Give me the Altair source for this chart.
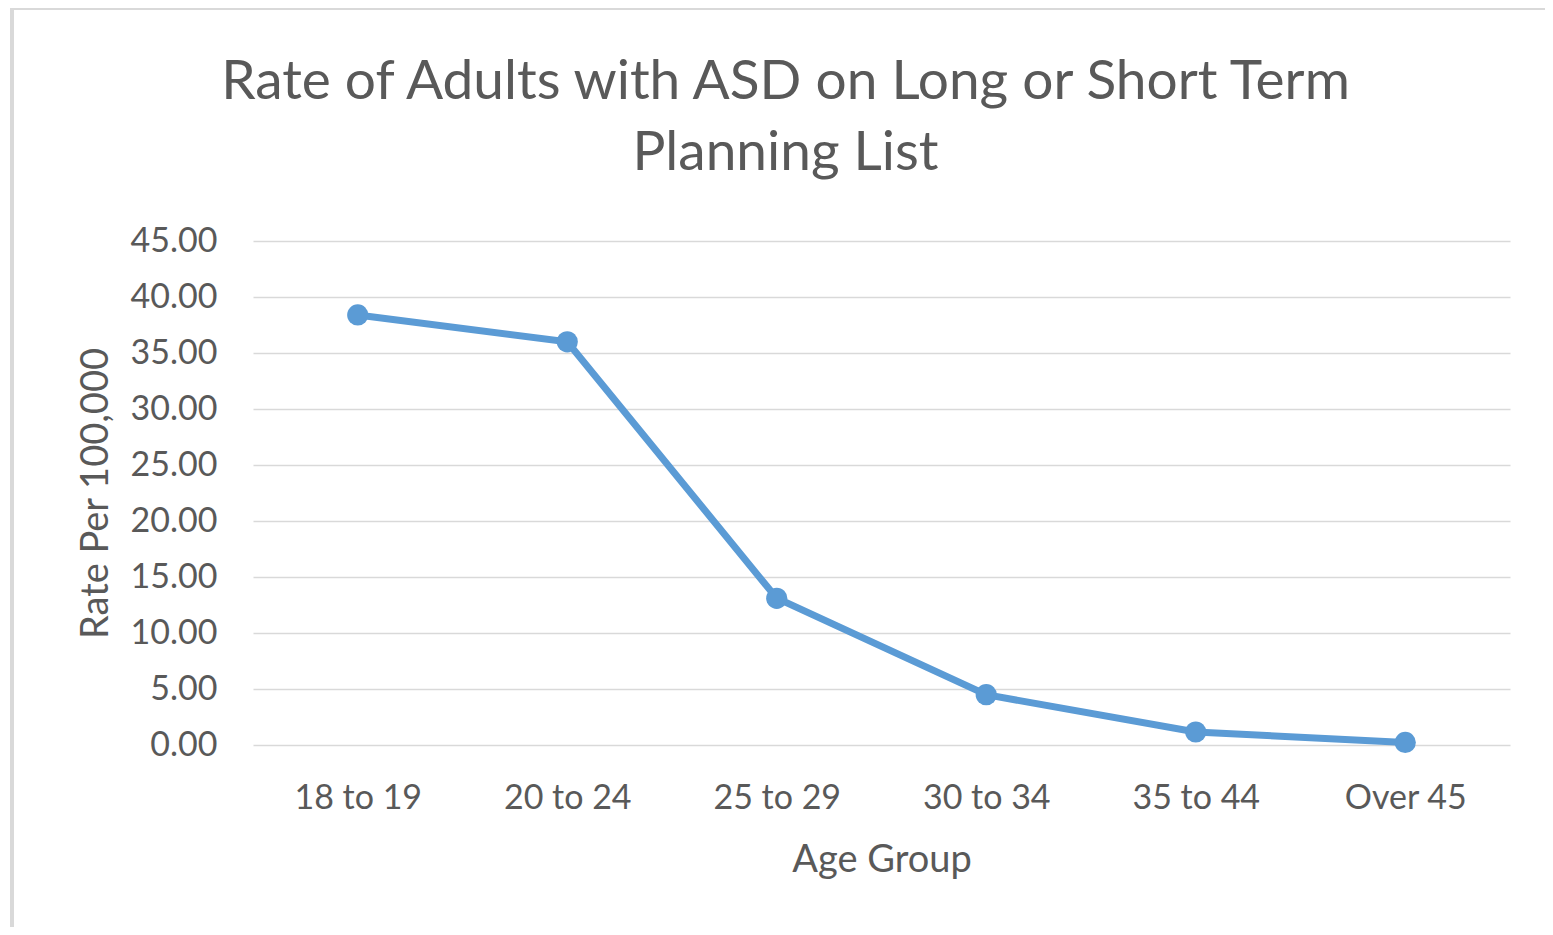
import altair as alt
import pandas as pd

age_groups = ["18 to 19", "20 to 24", "25 to 29", "30 to 34", "35 to 44", "Over 45"]
rates = [38.4, 36.0, 13.1, 4.49, 1.16, 0.23]
y_ticks = [0, 5, 10, 15, 20, 25, 30, 35, 40, 45]

df = pd.DataFrame({"Age Group": age_groups, "Rate": rates})

FONT = "Lato"
TEXT = "#595959"
BLUE = "#5b9bd5"
W, H = 1257, 504

x_enc = alt.X(
    "Age Group:O",
    sort=age_groups,
    scale=alt.Scale(type="point", padding=0.5),
    axis=alt.Axis(
        title="Age Group",
        labelAngle=0,
        labelFont=FONT,
        labelFontSize=34,
        labelColor=TEXT,
        labelBaseline="alphabetic",
        labelPadding=63,
        ticks=False,
        tickSize=0,
        domain=False,
        grid=False,
        titleFont=FONT,
        titleFontSize=38,
        titleFontWeight="normal",
        titleColor=TEXT,
        titleBaseline="alphabetic",
        titleY=126,
    ),
)
y_enc = alt.Y(
    "Rate:Q",
    scale=alt.Scale(domain=[0, 45], nice=False, zero=True),
    axis=alt.Axis(
        title="Rate Per 100,000",
        values=y_ticks,
        format=".2f",
        labelFont=FONT,
        labelFontSize=34,
        labelColor=TEXT,
        labelPadding=36,
        ticks=False,
        tickSize=0,
        domain=False,
        grid=True,
        gridColor="#d9d9d9",
        gridWidth=1.5,
        titleFont=FONT,
        titleFontSize=38,
        titleFontWeight="normal",
        titleColor=TEXT,
        titleAngle=270,
        titleBaseline="alphabetic",
        titleAlign="center",
        titleX=-146,
        titleY=H / 2,
    ),
)

line = alt.Chart(df).mark_line(color=BLUE, strokeWidth=7).encode(x=x_enc, y=y_enc)
points = alt.Chart(df).mark_point(filled=True, color=BLUE, size=450, opacity=1).encode(
    x=x_enc, y=y_enc
)

border = alt.Chart(df).mark_rect(
    fillOpacity=0, stroke="#d9d9d9", strokeWidth=4, clip=False
).encode(
    x=alt.value(-241), x2=alt.value(1310), y=alt.value(-233), y2=alt.value(692)
)

chart = (
    alt.layer(border, line, points)
    .properties(
        width=W,
        height=H,
        autosize=alt.AutoSizeParams(type="none"),
        padding={"left": 245, "top": 233, "right": 35, "bottom": 182},
        title=alt.TitleParams(
            text=["Rate of Adults with ASD on Long or Short Term", "Planning List"],
            font=FONT,
            fontSize=55,
            fontWeight="normal",
            color=TEXT,
            anchor="middle",
            lineHeight=71,
            dx=-96,
            dy=2,
            offset=-174,
        ),
    )
    .configure(background="white")
    .configure_view(stroke="transparent", strokeWidth=0)
)

chart.save("out.html", embed_options={"renderer": "svg", "actions": False})
